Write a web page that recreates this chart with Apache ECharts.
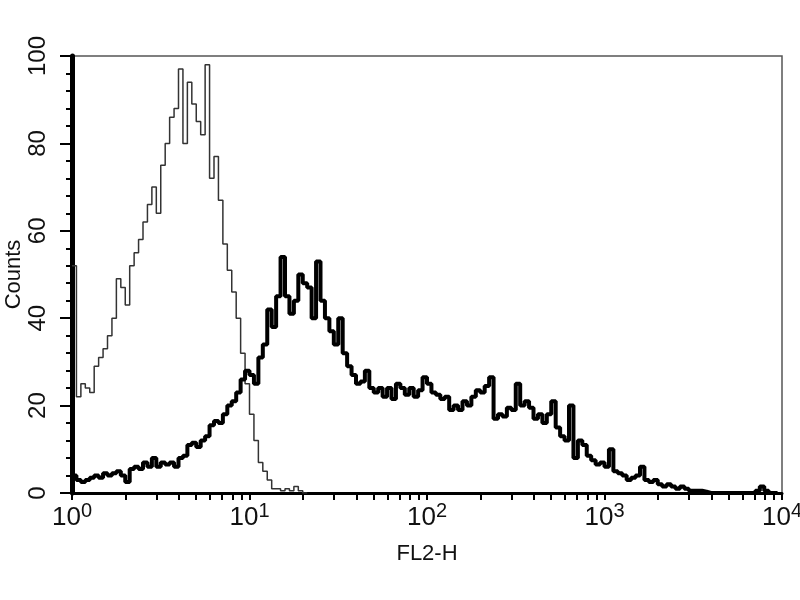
<!DOCTYPE html>
<html>
<head>
<meta charset="utf-8">
<title>FL2-H histogram</title>
<script src="https://cdn.jsdelivr.net/npm/echarts@6/dist/echarts.min.js"></script>
<style>
  html, body { margin: 0; padding: 0; background: #fff; }
  #chart { width: 800px; height: 600px; }
</style>
</head>
<body>
<div id="chart"></div>
<script>
// histogram bins: 0.025 decade wide, starting at 10^0
const binWidth = 0.025
const decadeLabels = [0, 1, 2, 3, 4]
const yTicks = [0, 20, 40, 60, 80, 100]

// control (thin line)
const thinCounts = [
  52, 22, 25, 24, 23, 29, 31, 33, 36, 40,
  49, 47, 43, 52, 55, 58, 62, 66, 70, 64,
  75, 80, 86, 88, 97, 80, 94, 89, 85, 82,
  98, 72, 77, 67, 57, 51, 46, 40, 32, 25,
  18, 12, 7, 5, 3, 1, 1, 0.5, 1, 0.5,
  1.5, 0.5, 0, 0
]

// stained sample (thick line)
const thickCounts = [
  4, 3, 2.5, 3, 3.5, 4, 3.5, 4.5, 4, 4.5,
  5, 4, 2.5, 5.5, 6, 5.5, 7, 6, 8, 6,
  7, 6.5, 7, 6, 8, 8.5, 11, 11.5, 10.5, 12,
  13, 15.5, 16.5, 16, 18, 20, 21, 23, 26, 28,
  27, 25, 31, 34, 42, 38, 45, 54, 45, 41,
  44, 50, 48, 47, 40, 53, 44, 40, 37, 34,
  40, 32, 29, 27, 25, 25.5, 28, 24, 23, 24,
  22, 24, 21.5, 25, 24, 22.5, 24, 22, 23.5, 26.5,
  25, 23, 22.5, 21.5, 22, 19, 20, 19, 21, 20,
  22, 23.5, 23, 24.5, 26.5, 17, 18, 17.5, 19.5, 19,
  25, 20, 21, 19.5, 17, 18, 16, 18, 21, 15,
  13, 12, 20, 8, 12, 11, 8.5, 7.5, 6.5, 7,
  6, 10, 5, 4.5, 4, 3, 3.5, 4, 6, 3,
  2.5, 3, 2, 1.5, 2, 1.5, 1, 1.5, 1, 0.5,
  0.5, 0.5, 0.3, 0, 0, 0, 0, 0, 0, 0,
  0, 0, 0, 0, 0.5, 1.5, 0.5, 0, 0, 0
]

// log tick marks 1..9 per decade, in decade units
const xTickValues = []
for (let n = 0; n < 4; n++) {
  for (let k = 1; k < 10; k++) xTickValues.push(n + Math.log10(k))
}
xTickValues.push(4)

function toPoints(counts) {
  return counts.map((c, i) => [i * binWidth, c])
}

const font = 'Liberation Sans, Arial, sans-serif'

const chart = echarts.init(document.getElementById('chart'))
chart.setOption({
  animation: false,
  backgroundColor: '#fff',
  grid: {
    left: 72,
    right: 18,
    top: 56,
    bottom: 107,
    outerBoundsMode: 'none',
    containLabel: false,
    show: true,
    borderColor: '#555',
    borderWidth: 1.5
  },
  xAxis: {
    type: 'value',
    min: 0,
    max: 4,
    name: 'FL2-H',
    nameLocation: 'middle',
    nameGap: 50,
    nameTextStyle: { fontFamily: font, fontSize: 22, color: '#111' },
    axisLine: { lineStyle: { color: '#000', width: 3 } },
    axisTick: {
      customValues: xTickValues,
      length: 7,
      lineStyle: { color: '#000', width: 2 }
    },
    splitLine: { show: false },
    axisLabel: {
      customValues: decadeLabels,
      margin: 8,
      formatter: v => '{b|10}{s|' + v + '}',
      rich: {
        b: { fontFamily: font, fontSize: 26, color: '#111', lineHeight: 30, verticalAlign: 'bottom' },
        s: { fontFamily: font, fontSize: 20, color: '#111', lineHeight: 30, verticalAlign: 'top' }
      }
    }
  },
  yAxis: {
    type: 'value',
    min: 0,
    max: 100,
    interval: 20,
    name: 'Counts',
    nameLocation: 'middle',
    nameGap: 47,
    nameRotate: 90,
    nameMoveOverlap: false,
    nameTextStyle: { fontFamily: font, fontSize: 22, color: '#111' },
    axisLine: { show: true, lineStyle: { color: '#000', width: 5 } },
    axisTick: { length: 12, lineStyle: { color: '#000', width: 2 } },
    minorTick: { show: true, splitNumber: 5, length: 6, lineStyle: { color: '#000', width: 2 } },
    splitLine: { show: false },
    axisLabel: {
      rotate: 90,
      margin: 22,
      fontFamily: font,
      fontSize: 24,
      color: '#111',
      formatter: v => (yTicks.includes(v) ? String(v) : '')
    }
  },
  series: [
    {
      name: 'control',
      type: 'line',
      step: 'end',
      symbol: 'none',
      data: toPoints(thinCounts),
      lineStyle: { color: '#333', width: 1.5 },
      z: 3
    },
    {
      name: 'sample',
      type: 'line',
      step: 'end',
      symbol: 'none',
      data: toPoints(thickCounts),
      lineStyle: { color: '#000', width: 4 },
      z: 4
    }
  ]
})
</script>
</body>
</html>
